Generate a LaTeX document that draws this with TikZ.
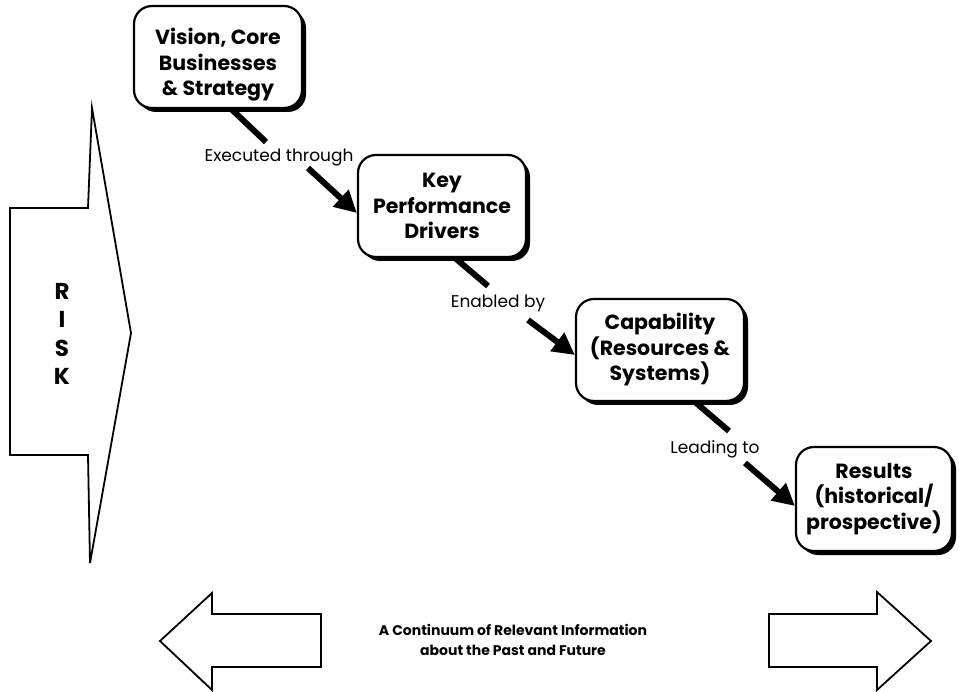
\documentclass[tikz,border=0pt]{standalone}
\usepackage{fontspec}
\setmainfont{Poppins}
\usetikzlibrary{arrows.meta,shadows}
\begin{document}
\begin{tikzpicture}[x=1pt,y=-1pt,
  box/.style={draw, line width=2.2pt, rounded corners=18pt, fill=white,
    minimum width=168pt, minimum height=102pt, align=center, inner sep=0pt,
    font=\bfseries\fontsize{20.5}{25.5}\selectfont,
    drop shadow={shadow xshift=4pt, shadow yshift=-4pt, fill=black, opacity=1}},
  conn/.style={line width=6pt},
  arr/.style={line width=6pt, -{Triangle[length=22pt,width=22pt]}},
  lab/.style={font=\fontsize{17}{20}\selectfont, inner sep=0pt},
  bigarrow/.style={draw, line width=1.8pt, fill=white, line join=miter}]
\useasboundingbox (0,0) rectangle (959,692);

% RISK arrow
\draw[bigarrow] (10,208) -- (88,208) -- (92,108) -- (131,333) -- (90,563) -- (88,455) -- (10,455) -- cycle;
\node[align=center, font=\bfseries\fontsize{23}{28.5}\selectfont, inner sep=0pt] (risk) at (62,334) {R\\I\\S\\K};

% connectors (drawn under the boxes)
\coordinate (l1s) at (226,104);
\coordinate (l1e) at (266,142);
\coordinate (a1s) at (308,168);
\coordinate (l2s) at (448,252);
\coordinate (l2e) at (488,286);
\coordinate (a2s) at (528,320);
\coordinate (l3s) at (688,396);
\coordinate (l3e) at (729,431);
\coordinate (a3s) at (745,463);

\draw[conn] (l1s) -- (l1e);
\draw[conn] (l2s) -- (l2e);
\draw[conn] (l3s) -- (l3e);

% boxes
\node[box] (vision) at (218,57) {\raisebox{-8pt}[\height][\depth]{\begin{tabular}{@{}c@{}}Vision, Core\\Businesses\\\& Strategy\end{tabular}}};
\node[box] (kpd) at (442,206) {Key\\Performance\\Drivers};
\node[box] (cap) at (660,350) {Capability\\(Resources \&\\Systems)};
\node[box, minimum width=156pt, minimum height=104pt] (res) at (874,499) {Results\\(historical/\\prospective)};

% labels
\node[lab] (lab1) at (279,158) {Executed through};
\node[lab] (lab2) at (498,303) {Enabled by};
\node[lab] (lab3) at (715,449) {Leading to};

% arrows
\draw[arr] (a1s) -- ([yshift=-7pt]kpd.west);
\draw[arr] (a2s) -- ([yshift=-5pt]cap.west);
\draw[arr] (a3s) -- ([yshift=-7pt]res.west);

% bottom arrows
\draw[bigarrow] (160,641) -- (212,593) -- (212,614) -- (321,614) -- (321,667) -- (212,667) -- (212,690) -- cycle;
\draw[bigarrow] (769,614) -- (877,614) -- (877,592) -- (931,641) -- (877,690) -- (877,667) -- (769,667) -- cycle;
\node[align=center, font=\bfseries\fontsize{14}{20}\selectfont, inner sep=0pt] (cont) at (513,640)
  {A Continuum of Relevant Information\\about the Past and Future};
\end{tikzpicture}
\end{document}
